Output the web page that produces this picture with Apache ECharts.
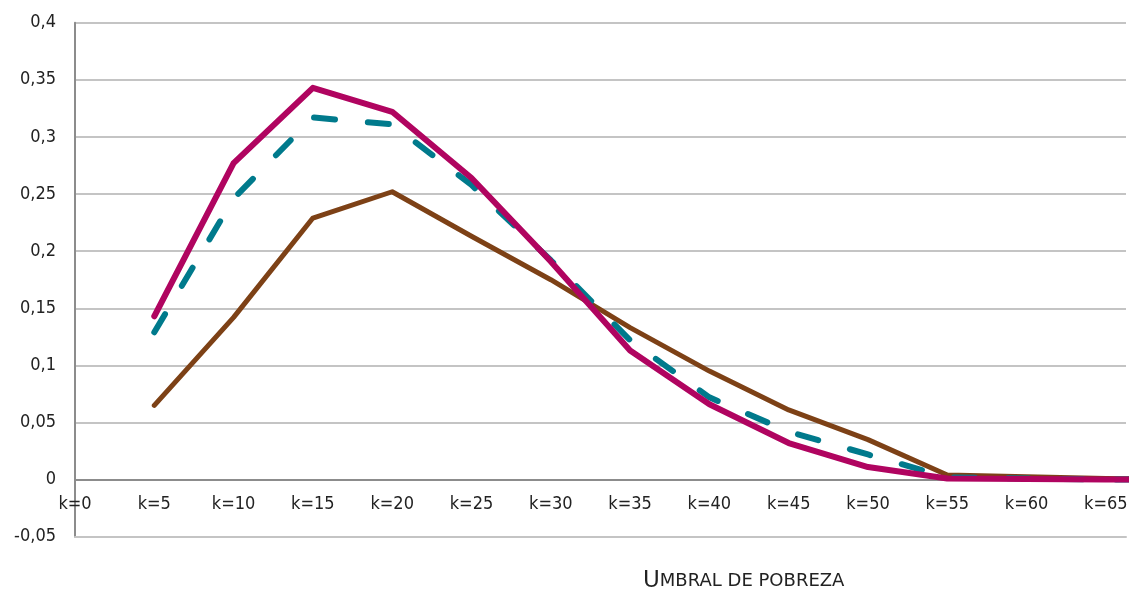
<!DOCTYPE html>
<html>
<head>
<meta charset="utf-8">
<script src="https://cdn.jsdelivr.net/npm/echarts@6/dist/echarts.min.js"></script>
<style>
  html, body { margin: 0; padding: 0; background: #fff; }
  #chart { width: 1133px; height: 594px; }
</style>
</head>
<body>
<div id="chart"></div>
<script>
// umbral k (la última se recorta en el borde derecho)
const kValues = [0, 5, 10, 15, 20, 25, 30, 35, 40, 45, 50, 55, 60, 65, 70]
const yTicks = [-0.05, 0, 0.05, 0.1, 0.15, 0.2, 0.25, 0.3, 0.35, 0.4]
const serieMagenta = [null, 0.143, 0.277, 0.343, 0.322, 0.264, 0.191, 0.113, 0.066, 0.032, 0.011, 0.001, 0.0005, 0, 0]
const serieTeal = [null, 0.129, 0.246, 0.317, 0.311, 0.258, 0.192, 0.122, 0.072, 0.042, 0.022, 0.002, 0.001, 0, 0]
const serieMarron = [null, 0.065, 0.142, 0.229, 0.252, 0.213, 0.175, 0.133, 0.095, 0.061, 0.035, 0.004, 0.0025, 0.001, 0]

const font = "'DejaVu Sans Condensed', 'Liberation Sans Narrow', sans-serif"
const xMax = 66.27
const gridBox = { left: 75, right: 7, top: 22.7, bottom: 57.3, containLabel: false }

const toPairs = (vals) => kValues.map((k, i) => [k, vals[i]])

const lineSerie = (data, color, width, dash) => { // serie de línea comun
  return {
    type: 'line',
    data: toPairs(data),
    showSymbol: false,
    symbol: 'none',
    connectNulls: false,
    clip: true,
    lineStyle: {
      color: color,
      width: width,
      type: dash || 'solid',
      cap: 'round',
      join: 'round'
    }
  }
}

const option = {
  animation: false,
  title: {
    text: '{a|U}{b|MBRAL DE POBREZA}',
    left: 638,
    top: 565,
    textStyle: {
      fontWeight: 'normal',
      rich: {
        a: { fontFamily: 'DejaVu Sans', fontSize: 23, fontWeight: 'normal', color: '#222' },
        b: { fontFamily: 'DejaVu Sans', fontSize: 18, fontWeight: 'normal', color: '#222' }
      }
    }
  },
  grid: [{ ...gridBox }, { ...gridBox }],
  xAxis: [{
    type: 'value',
    gridIndex: 0,
    min: 0,
    max: xMax,
    interval: 5,
    axisLine: { onZero: true, lineStyle: { color: '#8c8c8c', width: 2 } },
    axisTick: { show: false },
    splitLine: { show: false },
    axisLabel: {
      showMaxLabel: false,
      margin: -41,
      color: '#222',
      fontFamily: font,
      fontSize: 18,
      formatter: (v) => 'k=' + v
    }
  }, { // línea gris inferior en -0,05
    type: 'value',
    gridIndex: 1,
    position: 'bottom',
    min: 0,
    max: xMax,
    axisLine: { onZero: false, lineStyle: { color: '#c4c4c4', width: 2 } },
    axisTick: { show: false },
    axisLabel: { show: false },
    splitLine: { show: false }
  }],
  yAxis: [{
    type: 'value',
    gridIndex: 0,
    min: yTicks[0],
    max: yTicks[yTicks.length - 1],
    interval: 0.05,
    axisLine: { show: true, lineStyle: { color: '#8c8c8c', width: 2 } },
    axisTick: { show: false },
    splitLine: { show: true, lineStyle: { color: '#c4c4c4', width: 2 } },
    axisLabel: {
      margin: 19,
      color: '#222',
      fontFamily: font,
      fontSize: 18,
      formatter: (v) => String(parseFloat(v.toFixed(2))).replace('.', ',')
    }
  }, {
    type: 'value',
    gridIndex: 1,
    show: false,
    min: yTicks[0],
    max: yTicks[yTicks.length - 1]
  }],
  series: [
    lineSerie(serieMarron, '#7d4116', 5),
    lineSerie(serieTeal, '#007a8c', 6, [21, 33]),
    lineSerie(serieMagenta, '#b00460', 6)
  ]
}

const chart = echarts.init(document.getElementById('chart'))
chart.setOption(option)
</script>
</body>
</html>
